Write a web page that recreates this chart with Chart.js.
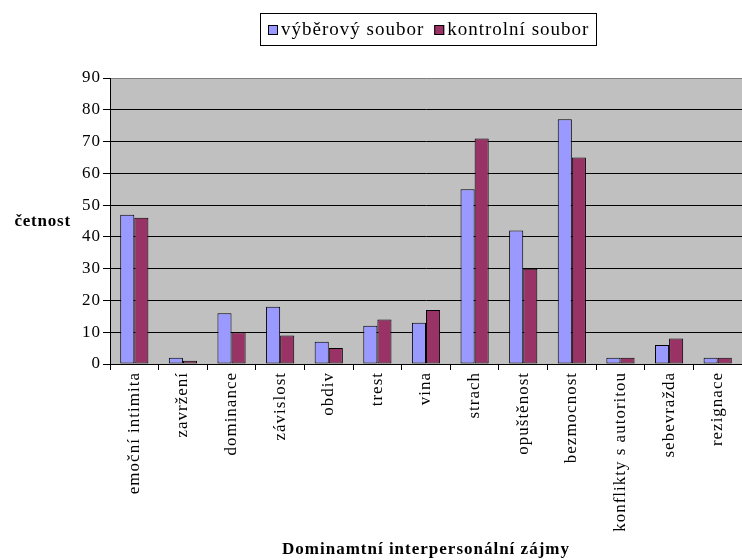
<!DOCTYPE html>
<html>
<head>
<meta charset="utf-8">
<script src="https://cdn.jsdelivr.net/npm/chart.js@4"></script>
<style>
    body { margin: 0; background: #ffffff; }
    #wrap { width: 742px; height: 560px; }
</style>
</head>
<body>
<div id="wrap"><canvas id="chart" width="742" height="560"></canvas></div>
<script>
const categories = [
    "emoční intimita", "zavržení", "dominance", "závislost", "obdiv", "trest",
    "vina", "strach", "opuštěnost", "bezmocnost", "konflikty s autoritou",
    "sebevražda", "rezignace",
];
const vyberovy = [47, 2, 16, 18, 7, 12, 13, 55, 42, 77, 2, 6, 2];
const kontrolni = [46, 1, 10, 9, 5, 14, 17, 71, 30, 65, 2, 8, 2];
const seriesNames = ["výběrový soubor", "kontrolní soubor"];
const yTicks = [0, 10, 20, 30, 40, 50, 60, 70, 80, 90];
const yTitle = "četnost";
const xTitle = "Dominamtní interpersonální zájmy";

const SERIF = "'Liberation Serif', 'Times New Roman', serif";
const colors = ["#9999FF", "#993366"];

// grey plot area, horizontal y title and the boxed legend like in Excel
const excelLook = {
    id: "excelLook",
    beforeDraw(chart) {
        const a = chart.chartArea;
        const c = chart.ctx;
        c.save();
        c.fillStyle = "#C0C0C0";
        c.fillRect(a.left, a.top, a.right - a.left, a.bottom - a.top);
        c.restore();
        // excel export text is spaced out a bit
        c.letterSpacing = "1px";
    },
    afterDraw(chart) {
        const c = chart.ctx;
        c.save();
        c.fillStyle = "#000";
        c.letterSpacing = "0.8px";
        c.font = "bold 17px " + SERIF;
        c.textAlign = "right";
        c.textBaseline = "middle";
        c.fillText(yTitle, 71, 222);

        // legend
        c.letterSpacing = "1px";
        c.font = "19px " + SERIF;
        c.textAlign = "left";
        c.strokeStyle = "#000";
        c.lineWidth = 1;
        c.strokeRect(260.5, 13.5, 336, 32);
        let x = 268;
        seriesNames.forEach((name, i) => {
            c.fillStyle = colors[i];
            c.fillRect(x, 25, 10, 10);
            c.strokeRect(x + 0.5, 25.5, 9, 9);
            c.fillStyle = "#000";
            c.fillText(name, x + 13, 30);
            x += 13 + c.measureText(name).width + 10;
        });
        c.restore();
    },
};

new Chart(document.getElementById("chart"), {
    type: "bar",
    data: {
        labels: categories,
        datasets: [
            {
                label: seriesNames[0],
                data: vyberovy,
                backgroundColor: colors[0],
                borderColor: "#000",
                borderWidth: 1,
                borderSkipped: false,
                barPercentage: 1,
                categoryPercentage: 0.58,
            },
            {
                label: seriesNames[1],
                data: kontrolni,
                backgroundColor: colors[1],
                borderColor: "#000",
                borderWidth: 1,
                borderSkipped: false,
                barPercentage: 1,
                categoryPercentage: 0.58,
            },
        ],
    },
    options: {
        responsive: false,
        animation: false,
        layout: {
            padding: { top: 78, right: 0, left: 0, bottom: 0 },
        },
        scales: {
            x: {
                grid: {
                    drawOnChartArea: false,
                    color: "#000",
                    tickLength: 6,
                },
                border: { color: "#000" },
                ticks: {
                    color: "#000",
                    autoSkip: false,
                    minRotation: 90,
                    maxRotation: 90,
                    padding: 2,
                    font: { family: SERIF, size: 17 },
                },
                title: {
                    display: true,
                    text: xTitle,
                    color: "#000",
                    font: { family: SERIF, size: 17, weight: "bold" },
                    padding: { top: 0, bottom: 0 },
                },
                afterFit(scale) {
                    scale.height = 196;
                },
            },
            y: {
                min: 0,
                max: 90,
                afterBuildTicks(scale) {
                    scale.ticks = yTicks.map((v) => ({ value: v }));
                },
                grid: {
                    color: (ctx) => (ctx.tick && ctx.tick.value === 90 ? "#808080" : "#000"),
                    tickColor: "#000",
                    tickLength: 7,
                },
                border: { color: "#000" },
                ticks: {
                    color: "#000",
                    padding: 2,
                    font: { family: SERIF, size: 17 },
                },
                afterFit(scale) {
                    scale.width = 110;
                },
            },
        },
        plugins: {
            legend: { display: false },
            tooltip: { enabled: false },
        },
    },
    plugins: [excelLook],
});
</script>
</body>
</html>
